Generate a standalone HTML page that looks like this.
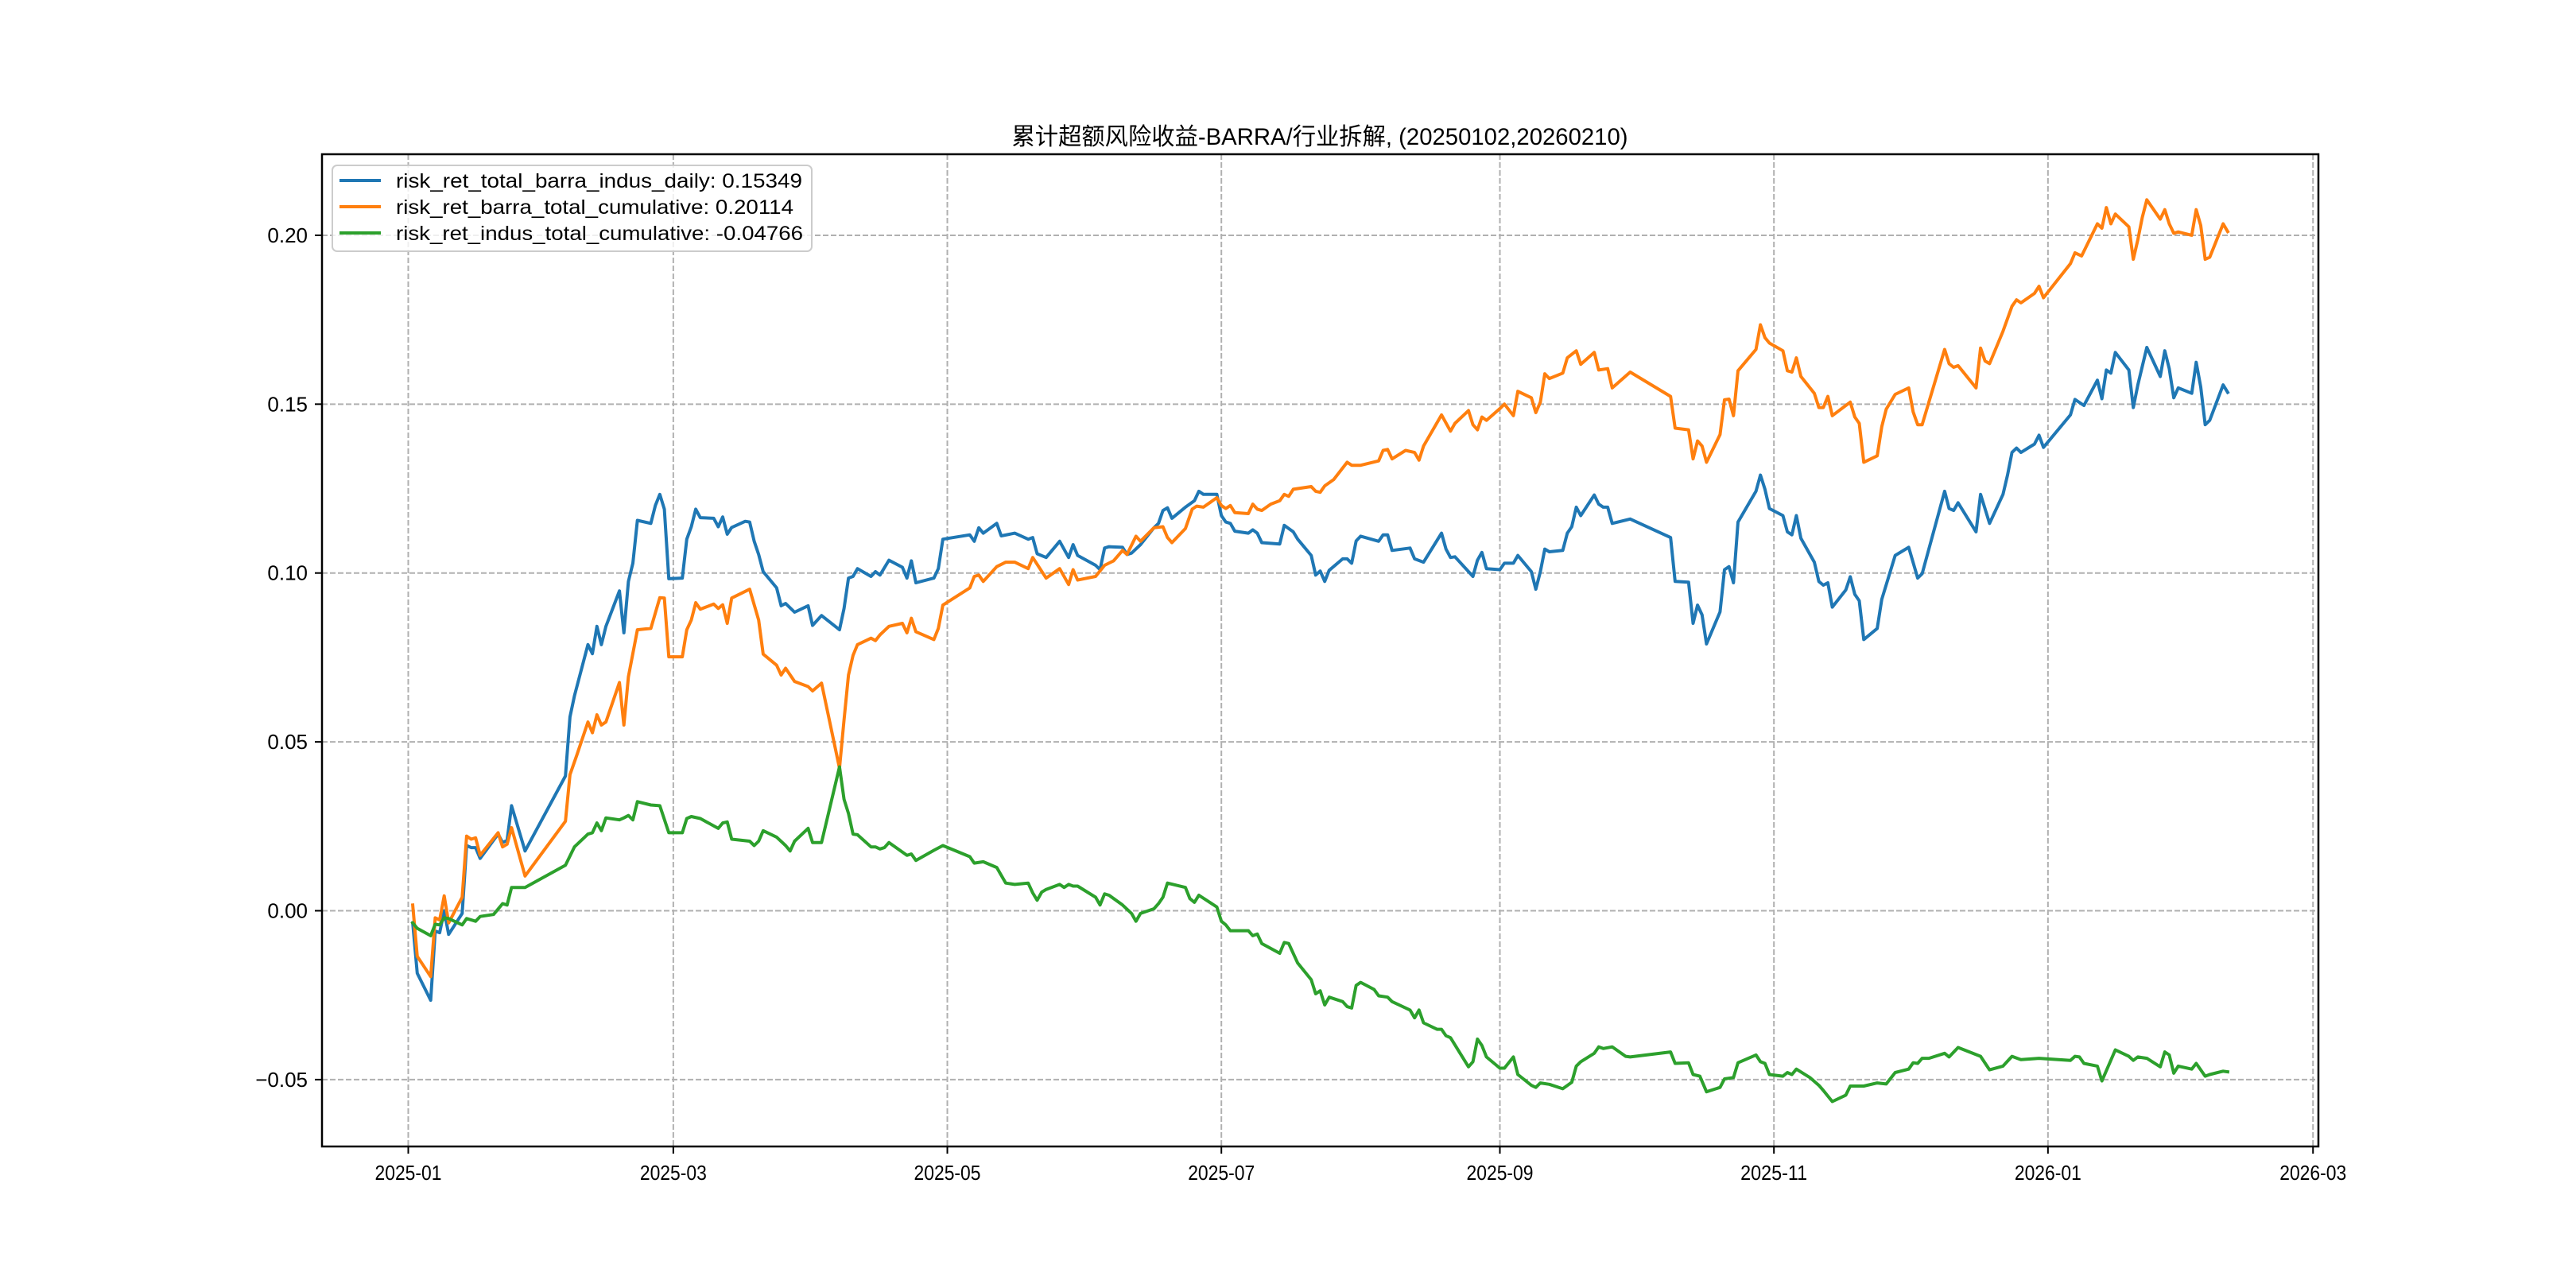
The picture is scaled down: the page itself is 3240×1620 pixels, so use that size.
<!DOCTYPE html>
<html><head><meta charset="utf-8">
<style>
html,body{margin:0;padding:0;background:#fff;}
svg{display:block;}
text{font-family:"WenQuanYi Zen Hei","Liberation Sans","Noto Sans CJK SC",sans-serif;fill:#000;}
</style></head>
<body>
<svg id="chart" width="3240" height="1620" viewBox="0 0 3240 1620" xmlns="http://www.w3.org/2000/svg">
<rect x="0" y="0" width="3240" height="1620" fill="#fff"/>
<g id="grid"></g>
<g id="series"></g>
<rect x="405" y="194" width="2511" height="1248" fill="none" stroke="#000" stroke-width="2.5"/>
<g id="ticks"></g>
<text x="1660" y="182" text-anchor="middle" font-size="30" textLength="775" lengthAdjust="spacingAndGlyphs">累计超额风险收益-BARRA/行业拆解, (20250102,20260210)</text>
<g id="legend">
<rect x="418" y="208" width="603" height="108" rx="6" fill="#fff" fill-opacity="0.8" stroke="#ccc" stroke-width="2"/>
<line x1="427" y1="227" x2="479" y2="227" stroke="#1f77b4" stroke-width="4"/>
<text x="498" y="236" font-size="25" textLength="511" lengthAdjust="spacingAndGlyphs">risk_ret_total_barra_indus_daily: 0.15349</text>
<line x1="427" y1="260" x2="479" y2="260" stroke="#ff7f0e" stroke-width="4"/>
<text x="498" y="269" font-size="25" textLength="500" lengthAdjust="spacingAndGlyphs">risk_ret_barra_total_cumulative: 0.20114</text>
<line x1="427" y1="293" x2="479" y2="293" stroke="#2ca02c" stroke-width="4"/>
<text x="498" y="302" font-size="25" textLength="512" lengthAdjust="spacingAndGlyphs">risk_ret_indus_total_cumulative: -0.04766</text>
</g>
</svg>
<script>
// day offsets from 2025-01-01
const xTickDays = [0, 59, 120, 181, 243, 304, 365, 424];
const xTickLabels = ["2025-01","2025-03","2025-05","2025-07","2025-09","2025-11","2026-01","2026-03"];
const yTickValues = [-0.05, 0, 0.05, 0.10, 0.15, 0.20];
const yTickLabels = ["\u22120.05","0.00","0.05","0.10","0.15","0.20"];

const blueDays = [1,2,5,6,7,8,9,12,13,14,15,16,20,21,22,23,26,35,36,37,40,41,42,43,44,47,48,49,50,51,54,55,56,57,58,61,62,63,64,65,68,69,70,71,72,75,76,77,78,79,82,83,84,86,89,90,92,96,97,98,99,100,103,104,105,107,110,111,112,113,117,118,119,125,126,127,128,131,132,135,138,139,140,142,145,147,148,149,153,154,155,156,159,160,161,163,166,167,168,169,170,173,175,176,177,180,181,182,183,184,187,188,189,190,194,195,197,198,201,202,203,204,205,208,209,210,211,212,216,217,218,219,223,224,226,230,231,232,233,237,238,239,240,243,244,246,247,250,251,252,253,254,257,258,259,260,261,264,265,266,267,268,272,281,282,285,286,287,288,289,292,293,294,295,296,300,301,302,303,306,307,308,309,310,313,314,315,316,317,320,321,322,323,324,327,328,331,334,336,337,342,343,344,345,349,350,352,355,356,357,358,359,362,363,364,370,371,373,376,377,378,379,380,383,384,385,387,390,391,392,393,394,397,398,399,400,401,404,405];
const blueVals = [-0.0036,-0.0185,-0.0265,-0.006,-0.0065,0.0,-0.007,-0.0008,0.0193,0.0187,0.0187,0.0155,0.0227,0.0202,0.0208,0.0311,0.0177,0.0399,0.0574,0.0636,0.0788,0.0761,0.0842,0.0788,0.0842,0.0947,0.0823,0.0975,0.1029,0.1156,0.1147,0.12,0.1233,0.1189,0.0983,0.0985,0.11,0.1137,0.1189,0.1164,0.1162,0.1137,0.1166,0.1115,0.1135,0.1153,0.1151,0.1094,0.1055,0.1004,0.0956,0.0903,0.091,0.0884,0.0903,0.0845,0.0874,0.0832,0.0895,0.0985,0.099,0.1013,0.099,0.1004,0.0994,0.1038,0.1017,0.0985,0.1036,0.0971,0.0985,0.1013,0.11,0.1113,0.1094,0.1134,0.1118,0.1147,0.111,0.1118,0.11,0.1105,0.1057,0.1046,0.1094,0.1046,0.1084,0.1052,0.1023,0.101,0.1074,0.1078,0.1076,0.1055,0.1059,0.1084,0.1134,0.1147,0.1185,0.1193,0.1162,0.1195,0.1214,0.1242,0.1233,0.1233,0.117,0.1151,0.1147,0.1124,0.1118,0.1128,0.1118,0.109,0.1086,0.1141,0.1122,0.11,0.1052,0.0994,0.1006,0.0975,0.1008,0.1042,0.1042,0.1029,0.1095,0.1109,0.1094,0.1113,0.1113,0.1067,0.1074,0.1042,0.1032,0.1118,0.1071,0.1046,0.1048,0.099,0.1038,0.1061,0.1013,0.101,0.1029,0.1029,0.1052,0.1004,0.0952,0.1004,0.1071,0.1063,0.1067,0.1118,0.1137,0.1195,0.117,0.1231,0.1204,0.1195,0.1195,0.1147,0.116,0.1105,0.0975,0.0973,0.0851,0.0905,0.0876,0.079,0.0885,0.101,0.1019,0.0971,0.1151,0.1242,0.129,0.1248,0.1191,0.117,0.1122,0.1113,0.117,0.1103,0.1032,0.0975,0.0964,0.0971,0.0899,0.095,0.0989,0.0937,0.0918,0.0803,0.0836,0.0922,0.1052,0.1076,0.0985,0.0998,0.1242,0.1191,0.1185,0.1208,0.1122,0.1233,0.1147,0.1233,0.129,0.1357,0.137,0.1357,0.1382,0.1408,0.1372,0.1468,0.1514,0.1496,0.1571,0.1516,0.1601,0.1592,0.1653,0.1601,0.149,0.1557,0.1668,0.1582,0.1658,0.1605,0.1519,0.1548,0.1532,0.1624,0.1551,0.1439,0.1452,0.1557,0.1535];

const orangeDays = [1,2,5,6,7,8,9,12,13,14,15,16,20,21,22,23,26,35,36,37.5,40,41,42,43,44,47,48,49,51,54,56,57,58,61,62,63,64,65,68,69,70,71,72,76,78,79,82,83,84,86,89,90,92,96,97,98,99,100,103,104,105,107,110,111,112,113,117,118,119,125,126,127,128,131,133,135,138,139,142,145,147,148,149,153,155,157,159,160,162,163,166,168,169,170,173,174.5,175.5,177,180,181,182,183,184,187,188,189,190,192,194,195,196,197,201,202,203,204,206,209,210,212,216,217,218,219,222,224,225,226,230,232,233,236,237,238,239,240,243,244,246,247,250,251,252,253,254,257,258,260,261,264,265,267,268,272,281,282,285,286,287,288,289,292,293,294,295,296,300,301,302,303,306,307,308,309,310,313,314,315,316,317,321,322,323,324,327,328,329,331,334,335,336,337,342,343,344,345,349,350,351,352,355,357,358,359,362,363,364,370,371,372.5,376,377,378,379,380,383,384,385,386,387,390,391,392,393,394,397,398,399,400,401,404,405];
const orangeVals = [0.0017,-0.0135,-0.0195,-0.0021,-0.0027,0.0044,-0.0036,0.004,0.0221,0.0212,0.0216,0.0164,0.0231,0.0189,0.0197,0.0246,0.0103,0.0265,0.0403,0.046,0.0559,0.0527,0.058,0.055,0.0559,0.0676,0.055,0.0693,0.0832,0.0836,0.0927,0.0926,0.0752,0.0752,0.0832,0.0861,0.0912,0.0893,0.0908,0.0895,0.0906,0.0851,0.0926,0.0952,0.0861,0.076,0.0727,0.0698,0.0718,0.0679,0.0664,0.0651,0.0674,0.0422,0.0565,0.0698,0.0756,0.0788,0.0807,0.08,0.0817,0.0842,0.0851,0.0823,0.0866,0.0826,0.0803,0.0836,0.0905,0.0956,0.099,0.0994,0.0975,0.1019,0.1032,0.1032,0.1013,0.1046,0.0985,0.1013,0.0966,0.101,0.0979,0.099,0.1023,0.1036,0.1067,0.1055,0.1109,0.1094,0.1134,0.1137,0.1105,0.109,0.1132,0.1189,0.1198,0.1195,0.1223,0.12,0.1191,0.12,0.1179,0.1176,0.1204,0.1189,0.1185,0.1204,0.1214,0.1233,0.1227,0.1248,0.1256,0.1242,0.1239,0.1258,0.1277,0.1328,0.1319,0.1319,0.1332,0.1363,0.1366,0.1338,0.1363,0.1357,0.1334,0.1376,0.1468,0.142,0.1443,0.1481,0.1439,0.1424,0.1462,0.1452,0.1487,0.15,0.1466,0.1538,0.1519,0.1475,0.1506,0.159,0.1576,0.1592,0.1637,0.1658,0.1618,0.1653,0.1601,0.1605,0.1548,0.1595,0.1523,0.1429,0.1424,0.1338,0.1391,0.1376,0.1328,0.141,0.1513,0.1515,0.1466,0.1599,0.1662,0.1735,0.1697,0.1681,0.1658,0.1599,0.1595,0.1637,0.1582,0.1532,0.149,0.149,0.1523,0.1466,0.1506,0.1462,0.1443,0.1328,0.1347,0.1433,0.1485,0.1529,0.1548,0.1477,0.1439,0.1439,0.1662,0.162,0.1609,0.1614,0.1548,0.1666,0.1628,0.162,0.1716,0.179,0.1809,0.18,0.1828,0.1849,0.1815,0.1916,0.1948,0.1939,0.2034,0.2021,0.2082,0.2034,0.2063,0.2025,0.1929,0.1987,0.2053,0.2105,0.2048,0.2076,0.2034,0.2006,0.201,0.2,0.2076,0.2029,0.1929,0.1935,0.2034,0.2011];

const greenDays = [1,2,5,6,7,8,9,12,13,15,16,19,21,22,23,26,35,37,40,41,42,43,44,47,48,49,50,51,54,56,58,61,62,63,65,69,70,71,72,76,77,78,79,82,84,85,86,89,90,92,96,97,98,99,100,103,104,105,106,107,111,112,113,117,119,125,126,128,131,133,135,138,139,140,141,142,145,146,147,148,149,153,154,155,156,159,161,162,163,166,167,168,169,173,174,175,176,180,181,182,183,187,188,189,190,194,195,196,198,201,202,203,204,205,208,209,210,211,212,215,216,218,219,223,224,225,226,229,230,231,232,236,237,238,239,240,243,244,246,247,250,251,252,254,257,259,260,261,264,265,266,268,271,272,281,282,285,286,287.5,289,292,293,295,296,300,301,302,303,306,307,308,309,312,314,315,317,320,321,324,327,329,331,334,335,336,337,338.5,342,343,345,350,352,355,357,359,363,370,371,372,373,376,377,380,383,384,385,387,390,391,392,393,394,397,398,400,401,404,405];
const greenVals = [-0.0036,-0.0052,-0.0074,-0.004,-0.0042,-0.0021,-0.0023,-0.0042,-0.0023,-0.0031,-0.0017,-0.0011,0.0021,0.0017,0.0069,0.0069,0.0135,0.0189,0.0227,0.0231,0.026,0.0237,0.0275,0.0269,0.0275,0.0282,0.0269,0.0323,0.0313,0.0311,0.0231,0.0231,0.0273,0.0279,0.0273,0.0244,0.026,0.0263,0.0212,0.0206,0.0193,0.0206,0.0237,0.0218,0.0193,0.0177,0.0206,0.0244,0.0202,0.0202,0.0426,0.033,0.0288,0.0227,0.0225,0.0189,0.0189,0.0183,0.0187,0.0202,0.0164,0.0168,0.0149,0.0179,0.0193,0.016,0.0141,0.0145,0.0128,0.0082,0.0078,0.0082,0.0053,0.0031,0.0055,0.0063,0.0078,0.0069,0.0078,0.0073,0.0073,0.004,0.0017,0.005,0.0046,0.0017,-0.0008,-0.0031,-0.0008,0.0006,0.0021,0.004,0.0082,0.0069,0.0036,0.0025,0.0046,0.0011,-0.0031,-0.0042,-0.0059,-0.0059,-0.0074,-0.0069,-0.0097,-0.0126,-0.0094,-0.0097,-0.0155,-0.0204,-0.0246,-0.0237,-0.0279,-0.0256,-0.0269,-0.0284,-0.0288,-0.0221,-0.0212,-0.0233,-0.0252,-0.0256,-0.0269,-0.0294,-0.0317,-0.0294,-0.0332,-0.0351,-0.0351,-0.037,-0.0376,-0.0462,-0.0447,-0.038,-0.0399,-0.0433,-0.0466,-0.0466,-0.0433,-0.0485,-0.0517,-0.0523,-0.051,-0.0514,-0.0527,-0.0508,-0.046,-0.0447,-0.0422,-0.0403,-0.0408,-0.0403,-0.0431,-0.0433,-0.0418,-0.0452,-0.045,-0.0485,-0.049,-0.0536,-0.0523,-0.0498,-0.0494,-0.045,-0.0427,-0.0447,-0.0452,-0.0485,-0.049,-0.0479,-0.0485,-0.0469,-0.0494,-0.0517,-0.0532,-0.0565,-0.0546,-0.0519,-0.0519,-0.051,-0.0513,-0.0479,-0.0469,-0.045,-0.0452,-0.0437,-0.0437,-0.0422,-0.0433,-0.0405,-0.0431,-0.0471,-0.046,-0.0431,-0.0441,-0.0437,-0.0443,-0.0431,-0.0433,-0.0452,-0.046,-0.0504,-0.0412,-0.0431,-0.0443,-0.0433,-0.0437,-0.0462,-0.0418,-0.0427,-0.0481,-0.046,-0.0469,-0.0452,-0.049,-0.0485,-0.0475,-0.0477];

const NS = "http://www.w3.org/2000/svg";
const X0 = 405, X1 = 2916, Y0 = 194, Y1 = 1442;
const dMin = -19.2, dMax = 425.2, vMin = -0.0698, vMax = 0.2240;
function xScale(d){ return X0 + (d - dMin) / (dMax - dMin) * (X1 - X0); }
function yScale(v){ return Y1 - (v - vMin) / (vMax - vMin) * (Y1 - Y0); }

const grid = document.getElementById("grid");
const ticks = document.getElementById("ticks");
const series = document.getElementById("series");

function mk(tag, attrs){ const e = document.createElementNS(NS, tag); for (const k in attrs) e.setAttribute(k, attrs[k]); return e; }

xTickDays.forEach((d, i) => {
  const x = xScale(d);
  const gl = mk("line", {x1:x, y1:Y0, x2:x, y2:Y1, stroke:"#b0b0b0", "stroke-width":2, "stroke-dasharray":"7,3"});
  
  
  grid.appendChild(gl);
  const t = mk("line", {x1:x, y1:Y1, x2:x, y2:Y1+9, stroke:"#000", "stroke-width":2});
  
  
  ticks.appendChild(t);
  const lb = mk("text", {x:x, y:1484, "text-anchor":"middle", "font-size":26, textLength:84, lengthAdjust:"spacingAndGlyphs"});
  lb.textContent = xTickLabels[i];
  
  
  ticks.appendChild(lb);
});

yTickValues.forEach((v, i) => {
  const y = yScale(v);
  const gl = mk("line", {x1:X0, y1:y, x2:X1, y2:y, stroke:"#b0b0b0", "stroke-width":2, "stroke-dasharray":"7,3"});
  
  
  grid.appendChild(gl);
  const t = mk("line", {x1:X0-9, y1:y, x2:X0, y2:y, stroke:"#000", "stroke-width":2});
  
  
  ticks.appendChild(t);
  const lb = mk("text", {x:387, y:y+9, "text-anchor":"end", "font-size":26});
  lb.textContent = yTickLabels[i];
  
  
  ticks.appendChild(lb);
});

function drawLine(days, vals, color, name){
  const pts = days.map((d, i) => xScale(d).toFixed(1) + "," + yScale(vals[i]).toFixed(1)).join(" ");
  const pl = mk("polyline", {points:pts, fill:"none", stroke:color, "stroke-width":4, "stroke-linejoin":"round", "stroke-linecap":"square"});
  
  
  series.appendChild(pl);
}
drawLine(blueDays, blueVals, "#1f77b4", "line-total-barra-indus");
drawLine(orangeDays, orangeVals, "#ff7f0e", "line-barra-cumulative");
drawLine(greenDays, greenVals, "#2ca02c", "line-indus-cumulative");
</script>
</body></html>
